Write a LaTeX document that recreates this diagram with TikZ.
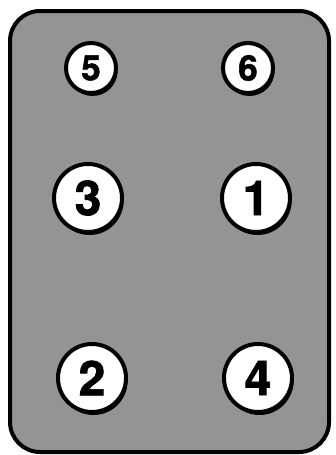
\documentclass[tikz,border=0pt]{standalone}
\usepackage{fontspec}
\newfontfamily\digitfont{TeX Gyre Heros}[BoldFeatures={FakeBold=1.5}]
\usepackage{tikz}
\usetikzlibrary{shadows}

\begin{document}
\begin{tikzpicture}[
  x=1pt, y=-1pt,
  plate/.style = {draw, line width=4pt, rounded corners=30pt, fill=black!42},
  hole/.style  = {circle, draw, line width=4pt, fill=white, inner sep=0pt,
                  drop shadow={opacity=1, fill=black,
                  shadow xshift=1.5pt, shadow yshift=-3pt}},
  big/.style   = {hole, minimum size=68pt, font=\digitfont\bfseries\fontsize{48}{48}\selectfont},
  small/.style = {hole, minimum size=50pt, font=\digitfont\bfseries\fontsize{35}{35}\selectfont}
]
\useasboundingbox (0,0) rectangle (335,455);

% plate
\draw[plate] (10,11) rectangle (329,452);

% top pair
\node[small] (n5) at (91,68)  {5};
\node[small] (n6) at (248,68) {6};

% middle and bottom pairs
\node[big] (n3) at (88,198)  {3};
\node[big] (n1) at (256,198) {1};
\node[big] (n2) at (92,378)  {2};
\node[big] (n4) at (258,378) {4};

\end{tikzpicture}
\end{document}
